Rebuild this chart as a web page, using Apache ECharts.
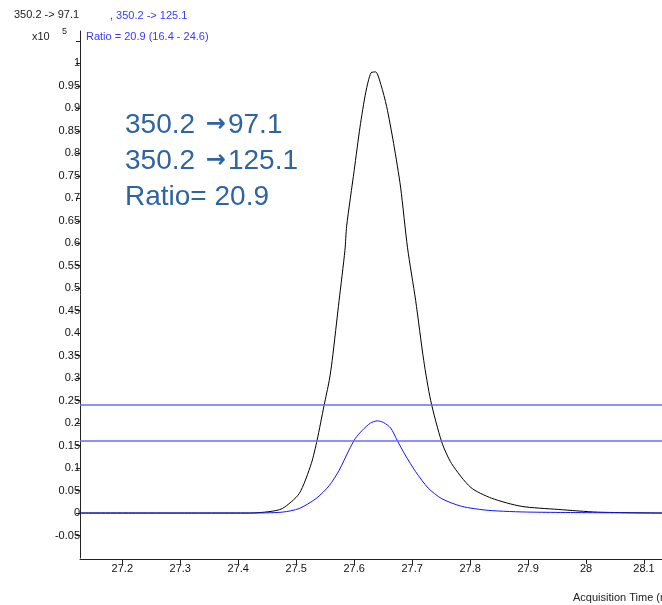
<!doctype html>
<html lang="en">
<head>
    <meta charset="UTF-8">
    <title>350.2 -> 97.1 / 125.1</title>
    <script type="text/javascript" src="https://cdn.jsdelivr.net/npm/echarts@6/dist/echarts.min.js"></script>
    <style>
        html, body {margin: 0; padding: 0; background: #fff;}
        #main {width: 662px; height: 605px;}
    </style>
</head>
<body>
<div id="main"></div>
<script type="text/javascript">
    // quantifier 350.2 -> 97.1 (black)
    var quantTime = [27.127, 27.419, 27.453, 27.476, 27.505, 27.526, 27.536, 27.548, 27.557, 27.562, 27.574,
        27.584, 27.587, 27.600, 27.610, 27.620, 27.629, 27.637, 27.646, 27.656, 27.668, 27.680, 27.692,
        27.706, 27.720, 27.732, 27.751, 27.768, 27.801, 27.837, 27.888, 27.952, 28.020, 28.131];
    var quantSignal = [0, 0, 0.003, 0.010, 0.043, 0.110, 0.162, 0.239, 0.295, 0.339, 0.473,
        0.584, 0.638, 0.762, 0.858, 0.936, 0.979, 0.981, 0.953, 0.904, 0.822, 0.725, 0.59,
        0.473, 0.339, 0.250, 0.158, 0.110, 0.057, 0.033, 0.015, 0.008, 0.002, 0];

    // qualifier 350.2 -> 125.1 (blue)
    var qualTime = [27.127, 27.419, 27.476, 27.505, 27.534, 27.557, 27.574, 27.591, 27.602, 27.614, 27.628,
        27.640, 27.651, 27.663, 27.674, 27.688, 27.706, 27.728, 27.751, 27.785, 27.831, 27.905, 28.131];
    var qualSignal = [0, 0, 0.002, 0.010, 0.032, 0.061, 0.095, 0.140, 0.166, 0.184, 0.200,
        0.205, 0.201, 0.189, 0.162, 0.129, 0.092, 0.055, 0.032, 0.015, 0.006, 0.002, 0];

    // ratio window 16.4 - 24.6 %
    var ratioLimits = [0.241, 0.161];

    var xLabelValues = [27.2, 27.3, 27.4, 27.5, 27.6, 27.7, 27.8, 27.9, 28, 28.1];
    var yLabelValues = [-0.05, 0, 0.05, 0.1, 0.15, 0.2, 0.25, 0.3, 0.35, 0.4, 0.45, 0.5,
        0.55, 0.6, 0.65, 0.7, 0.75, 0.8, 0.85, 0.9, 0.95, 1];
    var yTickValues = yLabelValues.concat([1.05]);

    function pairs(xs, ys) {
        var out = [];
        for (var i = 0; i < xs.length; i++) {
            out.push([xs[i], ys[i]]);
        }
        return out;
    }

    var myChart = echarts.init(document.getElementById('main'), null, {renderer: 'canvas'});

    var textFont = 'Liberation Sans, Arial, sans-serif';
    var bigColor = '#2f64a0';

    // big annotation line with a bold arrow
    function bigLine(y, text) {
        return {
            type: 'text', x: 125, y: y,
            style: {
                text: text,
                fill: bigColor,
                font: '28px ' + textFont,
                verticalAlign: 'middle',
                rich: {
                    arr: {fontFamily: 'DejaVu Sans', fontWeight: 'bold', fontSize: 24, color: bigColor, padding: [0, 2, 0, 3]}
                }
            }
        };
    }

    option = {
        backgroundColor: '#fff',
        animation: false,
        grid: {left: 80, right: 0, top: 31, bottom: 47},
        xAxis: {
            type: 'value',
            min: 27.127,
            max: 28.131,
            offset: 1,
            splitLine: {show: false},
            axisLine: {onZero: false, lineStyle: {color: '#222', width: 1}},
            axisTick: {customValues: xLabelValues, length: 5, lineStyle: {color: '#222'}},
            axisLabel: {
                customValues: xLabelValues,
                margin: 4,
                color: '#111',
                fontSize: 11,
                fontFamily: textFont,
                formatter: function (v) { return String(v); }
            }
        },
        yAxis: {
            type: 'value',
            min: -0.1,
            max: 1.072,
            splitLine: {show: false},
            axisLine: {show: true, onZero: false, lineStyle: {color: '#222', width: 1}},
            axisTick: {show: true, customValues: yTickValues, length: 4, lineStyle: {color: '#222'}},
            axisLabel: {
                customValues: yLabelValues,
                margin: 0,
                color: '#111',
                fontSize: 11,
                fontFamily: textFont,
                formatter: function (v) { return String(v); }
            }
        },
        series: [
            {
                name: '350.2 -> 97.1',
                type: 'line',
                data: pairs(quantTime, quantSignal),
                showSymbol: false,
                smooth: 0.25,
                lineStyle: {color: '#000', width: 1},
                z: 2
            },
            {
                name: '350.2 -> 125.1',
                type: 'line',
                data: pairs(qualTime, qualSignal),
                showSymbol: false,
                smooth: 0.25,
                lineStyle: {color: '#1414ff', width: 1},
                z: 3,
                markLine: {
                    silent: true,
                    symbol: 'none',
                    label: {show: false},
                    lineStyle: {color: '#6a6aff', width: 1.5, type: 'solid'},
                    data: [{yAxis: ratioLimits[0]}, {yAxis: ratioLimits[1]}]
                }
            }
        ],
        graphic: [
            {type: 'text', x: 14, y: 15, style: {text: '350.2 -> 97.1', fill: '#222', font: '11px ' + textFont, verticalAlign: 'middle'}},
            {type: 'text', x: 110, y: 16, style: {text: ', 350.2 -> 125.1', fill: '#3a3aff', font: '11px ' + textFont, verticalAlign: 'middle'}},
            {type: 'text', x: 32, y: 37, style: {text: 'x10', fill: '#222', font: '11px ' + textFont, verticalAlign: 'middle'}},
            {type: 'text', x: 62, y: 32, style: {text: '5', fill: '#222', font: '9px ' + textFont, verticalAlign: 'middle'}},
            {type: 'text', x: 86, y: 37, style: {text: 'Ratio = 20.9 (16.4 - 24.6)', fill: '#3a3aff', font: '11px ' + textFont, verticalAlign: 'middle'}},
            {type: 'text', x: 573, y: 598, style: {text: 'Acquisition Time (min)', fill: '#222', font: '11px ' + textFont, verticalAlign: 'middle'}},
            bigLine(125, '350.2 {arr|\u2192}97.1'),
            bigLine(161, '350.2 {arr|\u2192}125.1'),
            bigLine(197, 'Ratio= 20.9')
        ]
    };

    myChart.setOption(option);
</script>
</body>
</html>
